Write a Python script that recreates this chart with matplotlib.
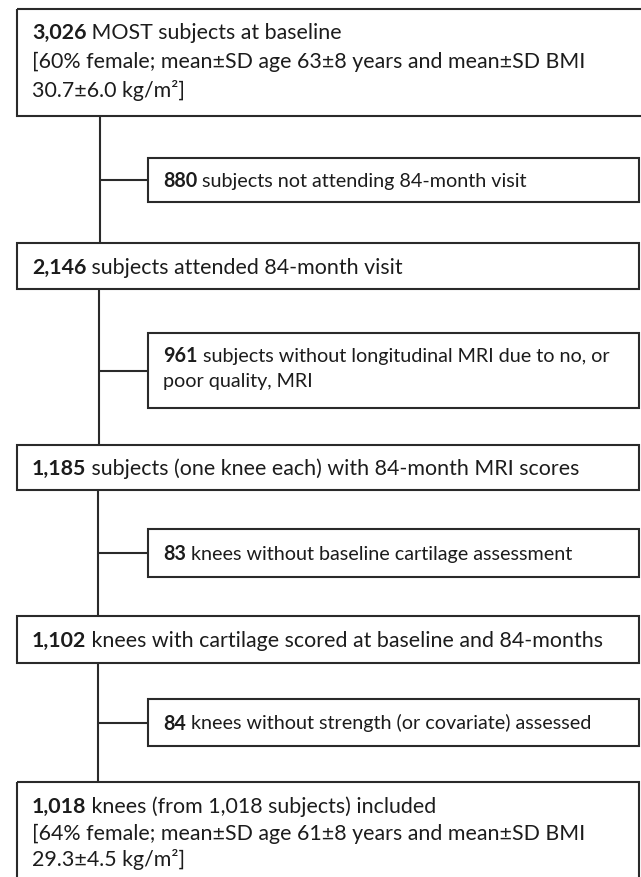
import matplotlib
matplotlib.use("Agg")
import matplotlib.pyplot as plt
from matplotlib.patches import Rectangle

# ---- content ----
main_counts = ["3,026", "2,146", "1,185", "1,102", "1,018"]
main_lines = [
    [" MOST subjects at baseline",
     "[60% female; mean±SD age 63±8 years and mean±SD BMI",
     "30.7±6.0 kg/m²]"],
    [" subjects attended 84-month visit"],
    [" subjects (one knee each) with 84-month MRI scores"],
    [" knees with cartilage scored at baseline and 84-months"],
    [" knees (from 1,018 subjects) included",
     "[64% female; mean±SD age 61±8 years and mean±SD BMI",
     "29.3±4.5 kg/m²]"],
]
excl_counts = ["880", "961", "83", "84"]
excl_lines = [
    [" subjects not attending 84-month visit"],
    [" subjects without longitudinal MRI due to no, or", "poor quality, MRI"],
    [" knees without baseline cartilage assessment"],
    [" knees without strength (or covariate) assessed"],
]

# ---- layout (pixels) ----
W, H = 641, 877
main_x0 = 17
main_x1 = [645, 639, 639, 639, 639]
main_y = [(9, 116), (243, 289), (445, 490), (616, 663), (782, 895)]
main_base = [(39, 29), None, None, None, (813, 26.5)]
excl_x0, excl_x1 = 148, 639
excl_y = [(158, 202), (333, 408), (529, 577), (699, 746)]
excl_base = [None, (362, 25), None, None]
spine_x = [100, 99, 98, 97.5]
main_tx, excl_tx = 32, 163

FONT = "Lato"
FS_MAIN = 15.4
FS_EXCL = 14.2
TXT = "#1c1c1c"
LC = "#2a2a2a"
LW = 1.5

fig = plt.figure(figsize=(W / 100, H / 100), dpi=100)
ax = fig.add_axes([0, 0, 1, 1])
ax.set_xlim(0, W)
ax.set_ylim(H, 0)
ax.axis("off")
renderer = fig.canvas.get_renderer()


def write(x, base, count, lines, spacing, fs):
    t = ax.text(x, base, count, fontsize=fs, fontweight="bold", family=FONT,
                color=TXT, va="baseline", ha="left")
    w = t.get_window_extent(renderer).width
    ax.text(x + w, base, lines[0], fontsize=fs, family=FONT, color=TXT,
            va="baseline", ha="left")
    for i, ln in enumerate(lines[1:], start=1):
        ax.text(x, base + i * spacing, ln, fontsize=fs, family=FONT,
                color=TXT, va="baseline", ha="left")


# main boxes
for i, (cnt, lines) in enumerate(zip(main_counts, main_lines)):
    y0, y1 = main_y[i]
    ax.add_patch(Rectangle((main_x0, y0), main_x1[i] - main_x0, y1 - y0,
                           fill=False, ec=LC, lw=LW, clip_on=False))
    if main_base[i] is None:
        base, sp = (y0 + y1) / 2 + 7.5, 0
    else:
        base, sp = main_base[i]
    write(main_tx, base, cnt, lines, sp, FS_MAIN)

# exclusion boxes and connectors
for i, (cnt, lines) in enumerate(zip(excl_counts, excl_lines)):
    y0, y1 = excl_y[i]
    ax.add_patch(Rectangle((excl_x0, y0), excl_x1 - excl_x0, y1 - y0,
                           fill=False, ec=LC, lw=LW))
    if excl_base[i] is None:
        base, sp = (y0 + y1) / 2 + 7, 0
    else:
        base, sp = excl_base[i]
    write(excl_tx, base, cnt, lines, sp, FS_EXCL)
    sx = spine_x[i]
    ax.plot([sx, sx], [main_y[i][1], main_y[i + 1][0]], color=LC, lw=LW,
            solid_capstyle="butt")
    ax.plot([sx, excl_x0], [(y0 + y1) / 2] * 2, color=LC, lw=LW,
            solid_capstyle="butt")

fig.savefig("out.png", dpi=100, facecolor="white")
